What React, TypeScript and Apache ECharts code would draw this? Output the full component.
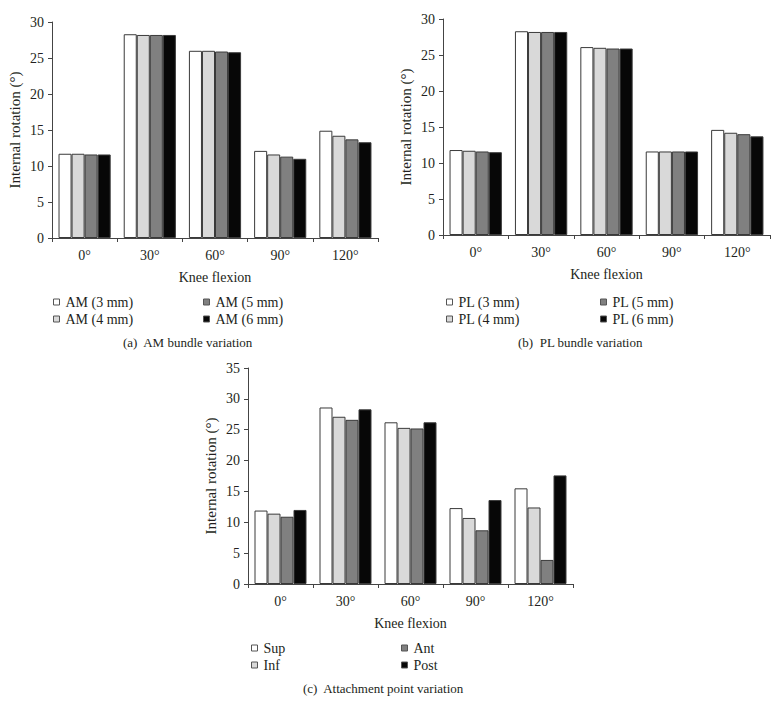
import React, { useEffect, useRef } from "react";
import * as echarts from "echarts";

const categories = ["0°", "30°", "60°", "90°", "120°"];

const amNames = ["AM (3 mm)", "AM (4 mm)", "AM (5 mm)", "AM (6 mm)"];
const am3 = [11.7, 28.3, 26.0, 12.1, 14.9];
const am4 = [11.7, 28.2, 26.0, 11.6, 14.2];
const am5 = [11.6, 28.2, 25.9, 11.3, 13.7];
const am6 = [11.6, 28.2, 25.8, 11.0, 13.3];

const plNames = ["PL (3 mm)", "PL (4 mm)", "PL (5 mm)", "PL (6 mm)"];
const pl3 = [11.8, 28.3, 26.1, 11.6, 14.6];
const pl4 = [11.7, 28.2, 26.0, 11.6, 14.2];
const pl5 = [11.6, 28.2, 25.9, 11.6, 14.0];
const pl6 = [11.5, 28.2, 25.9, 11.6, 13.7];

const apNames = ["Sup", "Inf", "Ant", "Post"];
const sup = [11.9, 28.6, 26.2, 12.3, 15.5];
const inf = [11.4, 27.1, 25.3, 10.7, 12.4];
const ant = [10.9, 26.6, 25.2, 8.7, 3.9];
const post = [12.0, 28.3, 26.2, 13.6, 17.6];

const yTicksAB = [0, 5, 10, 15, 20, 25, 30];
const yTicksC = [0, 5, 10, 15, 20, 25, 30, 35];

const colors = ["#ffffff", "#d9d9d9", "#808080", "#070707"];
const FONT = "'Liberation Serif', 'Times New Roman', serif";
const TXT = "#231f20";

export default function App() {
  const ref = useRef<HTMLDivElement>(null);
  useEffect(() => {
    if (!ref.current) return;
    const chart = echarts.init(ref.current, undefined, { renderer: "svg" });

    const grids = [
      { left: 52, top: 22, width: 326, height: 216 },
      { left: 443, top: 19, width: 327, height: 216 },
      { left: 248, top: 368, width: 325, height: 216 },
    ];

    const xAxis = grids.map((_, i) => ({
      type: "category",
      gridIndex: i,
      data: categories,
      name: "Knee flexion",
      nameLocation: "middle",
      nameGap: 32,
      nameTextStyle: { fontFamily: FONT, fontSize: 14, color: TXT },
      axisLine: { lineStyle: { color: "#444", width: 1 } },
      axisTick: { show: true, length: 4, alignWithLabel: false, lineStyle: { color: "#444" } },
      axisLabel: { fontFamily: FONT, fontSize: 14, color: TXT, margin: 10 },
      splitLine: { show: false },
    }));

    const yMax = [yTicksAB[yTicksAB.length - 1], yTicksAB[yTicksAB.length - 1], yTicksC[yTicksC.length - 1]];
    const yAxis = grids.map((_, i) => ({
      type: "value",
      gridIndex: i,
      min: 0,
      max: yMax[i],
      interval: 5,
      name: "Internal rotation (°)",
      nameLocation: "middle",
      nameGap: 30,
      nameRotate: 90,
      nameTextStyle: { fontFamily: FONT, fontSize: 15, color: TXT },
      axisLine: { show: true, lineStyle: { color: "#444", width: 1 } },
      axisTick: { show: true, length: 4, lineStyle: { color: "#444" } },
      axisLabel: { fontFamily: FONT, fontSize: 14, color: TXT, margin: 8 },
      splitLine: { show: false },
    }));

    const groups = [
      { names: amNames, data: [am3, am4, am5, am6] },
      { names: plNames, data: [pl3, pl4, pl5, pl6] },
      { names: apNames, data: [sup, inf, ant, post] },
    ];

    const series: any[] = [];
    groups.forEach((g, gi) => {
      g.names.forEach((n, si) => {
        series.push({
          type: "bar",
          name: n,
          xAxisIndex: gi,
          yAxisIndex: gi,
          data: g.data[si],
          barGap: "0%",
          barCategoryGap: "20%",
          itemStyle: { color: colors[si], borderColor: "#3a3a3a", borderWidth: 1 },
          emphasis: { disabled: true },
        });
      });
    });

    const legendPos = [
      { l1: 53, l2: 203, top: 294 },
      { l1: 446, l2: 600, top: 294 },
      { l1: 251, l2: 401, top: 640 },
    ];
    const legend: any[] = [];
    groups.forEach((g, gi) => {
      const p = legendPos[gi];
      [[g.names[0], g.names[1]], [g.names[2], g.names[3]]].forEach((pair, ci) => {
        legend.push({
          orient: "vertical",
          left: ci === 0 ? p.l1 : p.l2,
          top: p.top,
          data: pair,
          icon: "rect",
          itemWidth: 6,
          itemHeight: 6,
          itemGap: 1,
          padding: 0,
          selectedMode: false,
          itemStyle: { borderColor: "#555", borderWidth: 1 },
          textStyle: { fontFamily: FONT, fontSize: 14, color: TXT, lineHeight: 16, padding: [0, 0, 0, 1] },
        });
      });
    });

    chart.setOption({
      animation: false,
      backgroundColor: "#ffffff",
      grid: grids,
      xAxis,
      yAxis,
      series,
      legend,
      graphic: [
        { type: "text", left: 123, top: 336, style: { text: "(a)  AM bundle variation", fontFamily: FONT, fontSize: 13, fill: TXT } },
        { type: "text", left: 518, top: 336, style: { text: "(b)  PL bundle variation", fontFamily: FONT, fontSize: 13, fill: TXT } },
        { type: "text", left: 303, top: 682, style: { text: "(c)  Attachment point variation", fontFamily: FONT, fontSize: 13, fill: TXT } },
      ],
    });
    return () => chart.dispose();
  }, []);
  return (
    <div
      ref={ref}
      style={{ position: "fixed", left: 0, top: 0, width: 779, height: 705, background: "#fff" }}
    />
  );
}
